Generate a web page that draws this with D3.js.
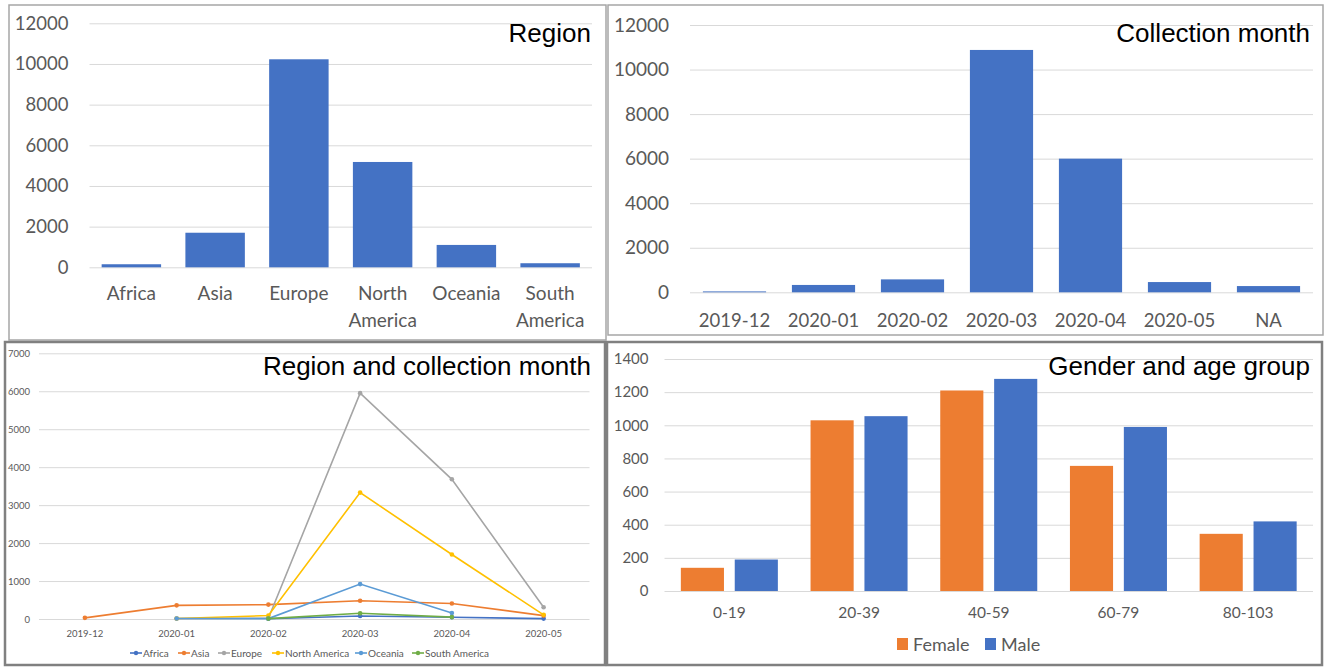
<!DOCTYPE html>
<html>
<head>
  <style>
    body { margin: 0; background: white; }
    svg { display: block; }
    .tick line { stroke: #d9d9d9; }
    .tick text { fill: #595959; font-family: Lato, sans-serif; }
    .cat { fill: #595959; font-family: Lato, sans-serif; }
    .title { fill: #000; font-family: "Liberation Sans", Arial, sans-serif; font-size: 26px; text-anchor: end; }
  </style>
</head>
<body>
  <script src="https://d3js.org/d3.v7.min.js"></script>
  <script>
    // region totals
    var regions = ["Africa", "Asia", "Europe", "North America", "Oceania", "South America"];
    var regionCounts = [150, 1700, 10230, 5180, 1100, 200];

    // collection month totals
    var months = ["2019-12", "2020-01", "2020-02", "2020-03", "2020-04", "2020-05", "NA"];
    var monthCounts = [40, 330, 580, 10880, 6000, 460, 280];

    // region x month (nulls = no samples)
    var lineMonths = ["2019-12", "2020-01", "2020-02", "2020-03", "2020-04", "2020-05"];
    var africaByMonth = [null, null, 5, 80, 45, 10];
    var asiaByMonth = [30, 360, 380, 480, 410, 90];
    var europeByMonth = [null, 10, 20, 5950, 3680, 310];
    var northAmericaByMonth = [null, 15, 90, 3330, 1700, 110];
    var oceaniaByMonth = [null, 15, 10, 920, 160, null];
    var southAmericaByMonth = [null, null, 10, 150, 50, null];
    var lineColors = ["#4472c4", "#ed7d31", "#a5a5a5", "#ffc000", "#5b9bd5", "#70ad47"];

    // gender x age group
    var ageGroups = ["0-19", "20-39", "40-59", "60-79", "80-103"];
    var genders = ["Female", "Male"];
    var femaleCounts = [140, 1030, 1210, 755, 345];
    var maleCounts = [190, 1055, 1280, 990, 420];
    var genderColors = ["#ed7d31", "#4472c4"];

    var svg = d3.select("body").append("svg")
        .attr("width", 1329).attr("height", 667);

    // panel frames
    svg.append("rect").attr("x", 9).attr("y", 5).attr("width", 597).attr("height", 335)
        .attr("fill", "none").attr("stroke", "#a6a6a6").attr("stroke-width", 1.5);
    svg.append("rect").attr("x", 608).attr("y", 5).attr("width", 715).attr("height", 330)
        .attr("fill", "none").attr("stroke", "#a6a6a6").attr("stroke-width", 1.5);
    svg.append("rect").attr("x", 5).attr("y", 342).attr("width", 600).attr("height", 323)
        .attr("fill", "none").attr("stroke", "#808080").attr("stroke-width", 2.5);
    svg.append("rect").attr("x", 607).attr("y", 342).attr("width", 715).attr("height", 323)
        .attr("fill", "none").attr("stroke", "#808080").attr("stroke-width", 2.5);

    function yGrid(g, y, x0, x1, ticks, pad, size) {
      var ax = g.append("g")
          .attr("transform", "translate(" + x0 + ",0)")
          .call(d3.axisLeft(y).tickValues(ticks).tickSize(-(x1 - x0)).tickPadding(pad).tickFormat(d3.format("d")));
      ax.select(".domain").remove();
      ax.selectAll(".tick text").style("font-size", size + "px");
      ax.selectAll(".tick line").attr("stroke", "#d9d9d9");
      return ax;
    }

    // ---- Region
    var g1 = svg.append("g");
    var x1 = d3.scaleBand().domain(regions).range([89.5, 592]).paddingInner(0.29).paddingOuter(0.145);
    var y1 = d3.scaleLinear().domain([0, 12000]).range([267.3, 23.3]);
    yGrid(g1, y1, 89.5, 592, d3.range(0, 12001, 2000), 21, 18.5);
    g1.selectAll("rect.bar").data(regions).enter().append("rect")
        .attr("class", "bar")
        .attr("x", d => x1(d))
        .attr("width", x1.bandwidth())
        .attr("y", (d, i) => y1(regionCounts[i]))
        .attr("height", (d, i) => y1(0) - y1(regionCounts[i]))
        .attr("fill", "#4472c4");
    g1.selectAll("text.cat").data(regions).enter().append("text")
        .attr("class", "cat")
        .attr("text-anchor", "middle")
        .style("font-size", "19px")
        .each(function(d) {
          var words = d.split(" ");
          var t = d3.select(this);
          words.forEach((w, k) => {
            t.append("tspan").attr("x", x1(d) + x1.bandwidth() / 2).attr("y", 300 + k * 27).text(w);
          });
        });
    g1.append("text").attr("class", "title").attr("x", 591).attr("y", 42).text("Region");

    // ---- Collection month
    var g2 = svg.append("g");
    var x2 = d3.scaleBand().domain(months).range([690, 1313]).paddingInner(0.29).paddingOuter(0.145);
    var y2 = d3.scaleLinear().domain([0, 12000]).range([292.3, 25]);
    yGrid(g2, y2, 690, 1313, d3.range(0, 12001, 2000), 21, 19);
    g2.selectAll("rect.bar").data(months).enter().append("rect")
        .attr("class", "bar")
        .attr("x", d => x2(d))
        .attr("width", x2.bandwidth())
        .attr("y", (d, i) => y2(monthCounts[i]))
        .attr("height", (d, i) => y2(0) - y2(monthCounts[i]))
        .attr("fill", "#4472c4");
    g2.selectAll("text.cat").data(months).enter().append("text")
        .attr("class", "cat")
        .attr("text-anchor", "middle")
        .style("font-size", "18.5px")
        .attr("x", d => x2(d) + x2.bandwidth() / 2)
        .attr("y", 327)
        .text(d => d);
    g2.append("text").attr("class", "title").attr("x", 1310).attr("y", 42).text("Collection month");

    // ---- Region and collection month
    var g3 = svg.append("g");
    var x3 = d3.scaleBand().domain(lineMonths).range([39, 589.5]);
    var y3 = d3.scaleLinear().domain([0, 7000]).range([619, 353.3]);
    yGrid(g3, y3, 39, 589.5, d3.range(0, 7001, 1000), 9, 9.5);
    var series = [africaByMonth, asiaByMonth, europeByMonth, northAmericaByMonth, oceaniaByMonth, southAmericaByMonth];
    var cx = d => x3(d) + x3.bandwidth() / 2;
    var line = d3.line()
        .defined(d => d.v != null)
        .x(d => cx(d.m))
        .y(d => y3(d.v));
    series.forEach((vals, s) => {
      var pts = lineMonths.map((m, i) => ({ m: m, v: vals[i] }));
      g3.append("path").datum(pts)
          .attr("d", line)
          .attr("fill", "none")
          .attr("stroke", lineColors[s])
          .attr("stroke-width", 1.6);
      g3.selectAll(null).data(pts.filter(p => p.v != null)).enter().append("circle")
          .attr("cx", p => cx(p.m))
          .attr("cy", p => y3(p.v))
          .attr("r", 2.3)
          .attr("fill", lineColors[s]);
    });
    g3.selectAll("text.cat").data(lineMonths).enter().append("text")
        .attr("class", "cat")
        .attr("text-anchor", "middle")
        .style("font-size", "9.5px")
        .attr("x", d => cx(d))
        .attr("y", 636.5)
        .text(d => d);
    var legX = [130, 178, 218, 272, 355, 412];
    regions.forEach((r, s) => {
      var lg = g3.append("g").attr("transform", "translate(" + legX[s] + ",653)");
      lg.append("line").attr("x1", 0).attr("x2", 12).attr("stroke", lineColors[s]).attr("stroke-width", 1.6);
      lg.append("circle").attr("cx", 6).attr("r", 2.2).attr("fill", lineColors[s]);
      lg.append("text").attr("class", "cat").attr("x", 13).attr("y", 3.5)
          .style("font-size", "10px").text(r);
    });
    g3.append("text").attr("class", "title").attr("x", 591).attr("y", 375).text("Region and collection month");

    // ---- Gender and age group
    var g4 = svg.append("g");
    var x4 = d3.scaleBand().domain(ageGroups).range([664.5, 1313]).paddingInner(0.252).paddingOuter(0.126);
    var xs4 = d3.scaleBand().domain(genders).range([0, x4.bandwidth()]).paddingInner(0.2);
    var y4 = d3.scaleLinear().domain([0, 1400]).range([591, 359]);
    yGrid(g4, y4, 664.5, 1313, d3.range(0, 1401, 200), 16, 15);
    var genderSeries = [femaleCounts, maleCounts];
    genders.forEach((gn, s) => {
      g4.selectAll(null).data(ageGroups).enter().append("rect")
          .attr("x", d => x4(d) + xs4(gn))
          .attr("width", xs4.bandwidth())
          .attr("y", (d, i) => y4(genderSeries[s][i]))
          .attr("height", (d, i) => y4(0) - y4(genderSeries[s][i]))
          .attr("fill", genderColors[s]);
    });
    g4.selectAll("text.cat").data(ageGroups).enter().append("text")
        .attr("class", "cat")
        .attr("text-anchor", "middle")
        .style("font-size", "15.5px")
        .attr("x", d => x4(d) + x4.bandwidth() / 2)
        .attr("y", 618)
        .text(d => d);
    var legX4 = [897, 985];
    genders.forEach((gn, s) => {
      var lg = g4.append("g").attr("transform", "translate(" + legX4[s] + ",644)");
      lg.append("rect").attr("x", 0).attr("y", -6).attr("width", 11).attr("height", 12).attr("fill", genderColors[s]);
      lg.append("text").attr("class", "cat").attr("x", 16).attr("y", 6.5)
          .style("font-size", "18px").text(gn);
    });
    g4.append("text").attr("class", "title").attr("x", 1310).attr("y", 375).text("Gender and age group");
  </script>
</body>
</html>
